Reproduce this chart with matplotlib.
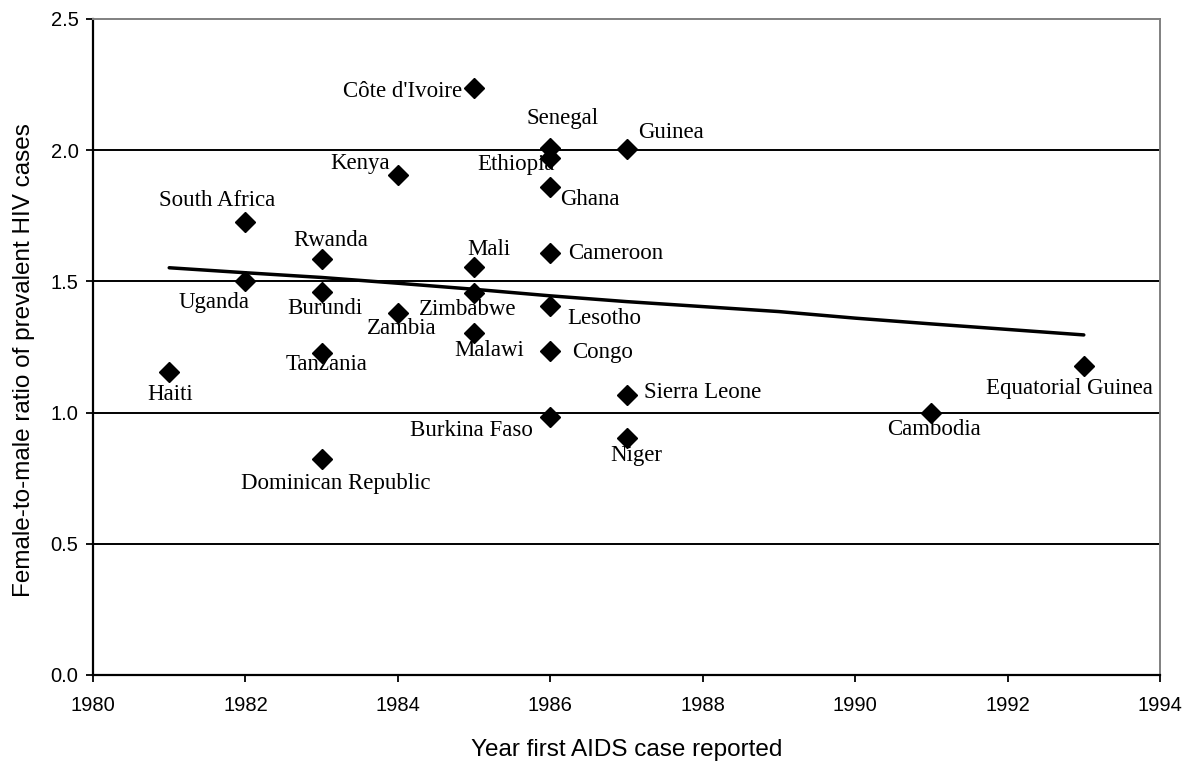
import matplotlib
matplotlib.use("Agg")
import matplotlib.pyplot as plt
from matplotlib.ticker import FormatStrFormatter

countries = ["Côte d'Ivoire", "Senegal", "Guinea", "Kenya", "Ethiopia", "Ghana",
             "South Africa", "Rwanda", "Mali", "Cameroon", "Uganda", "Burundi",
             "Zimbabwe", "Lesotho", "Zambia", "Malawi", "Tanzania", "Congo",
             "Haiti", "Sierra Leone", "Burkina Faso", "Niger", "Dominican Republic",
             "Cambodia", "Equatorial Guinea"]
years = [1985, 1986, 1987, 1984, 1986, 1986,
         1982, 1983, 1985, 1986, 1982, 1983,
         1985, 1986, 1984, 1985, 1983, 1986,
         1981, 1987, 1986, 1987, 1983,
         1991, 1993]
ratios = [2.237, 2.008, 2.005, 1.905, 1.97, 1.86,
          1.726, 1.585, 1.555, 1.608, 1.50, 1.46,
          1.456, 1.406, 1.38, 1.303, 1.227, 1.235,
          1.155, 1.067, 0.983, 0.903, 0.823,
          0.998, 1.178]

trend_years = [1981, 1982, 1983, 1984, 1985, 1986, 1987, 1988, 1989, 1990, 1991, 1992, 1993]
trend_vals = [1.552, 1.533, 1.515, 1.493, 1.470, 1.445, 1.423, 1.404, 1.385, 1.360, 1.338, 1.317, 1.296]

# label offsets in pixels and alignment
label_pos = {
    "Côte d'Ivoire": (-12, -3, 'right'),
    "Senegal": (12, 30, 'center'),
    "Guinea": (12, 16, 'left'),
    "Kenya": (-8, 12, 'right'),
    "Ethiopia": (5, -6, 'right'),
    "Ghana": (10, -13, 'left'),
    "South Africa": (-28, 22, 'center'),
    "Rwanda": (9, 19, 'center'),
    "Mali": (15, 17, 'center'),
    "Cameroon": (18, 0, 'left'),
    "Uganda": (-31, -21, 'center'),
    "Burundi": (3, -17, 'center'),
    "Zimbabwe": (-6, -17, 'center'),
    "Lesotho": (17, -12, 'left'),
    "Zambia": (4, -16, 'center'),
    "Malawi": (15, -17, 'center'),
    "Tanzania": (5, -11, 'center'),
    "Congo": (22, -2, 'left'),
    "Haiti": (1, -23, 'center'),
    "Sierra Leone": (18, 3, 'left'),
    "Burkina Faso": (-17, -13, 'right'),
    "Niger": (10, -17, 'center'),
    "Dominican Republic": (14, -24, 'center'),
    "Cambodia": (3, -16, 'center'),
    "Equatorial Guinea": (-14, -23, 'center'),
}

fig = plt.figure(figsize=(11.93, 7.66), dpi=100)
ax = fig.add_axes([93 / 1193, 91 / 766, 1067 / 1193, 656 / 766])

for yv in [0.5, 1.0, 1.5, 2.0]:
    ax.axhline(yv, color='black', lw=1.4, zorder=1)

ax.plot(trend_years, trend_vals, color='black', lw=2.5, zorder=2, solid_capstyle='round')
ax.plot(years, ratios, linestyle='none', marker='D', color='black', markersize=10, zorder=3)

for c, x, y in zip(countries, years, ratios):
    dx, dy, ha = label_pos[c]
    ax.annotate(c, (x, y), xytext=(dx, dy), textcoords='offset pixels',
                ha=ha, va='center', fontsize=16.5, family='Liberation Serif', zorder=4)

ax.set_xlim(1980, 1994)
ax.set_ylim(0, 2.5)
ax.set_xticks(range(1980, 1995, 2))
ax.set_yticks([0.0, 0.5, 1.0, 1.5, 2.0, 2.5])
ax.yaxis.set_major_formatter(FormatStrFormatter('%.1f'))

for lab in ax.get_xticklabels() + ax.get_yticklabels():
    lab.set_family('Liberation Sans')
    lab.set_fontsize(14.5)
ax.tick_params(direction='out', length=5, width=1.3, color='black')
ax.tick_params(axis='x', pad=10)
ax.tick_params(axis='y', pad=5.5)

ax.spines['left'].set_color('black')
ax.spines['bottom'].set_color('black')
ax.spines['left'].set_linewidth(1.6)
ax.spines['bottom'].set_linewidth(1.6)
ax.spines['top'].set_color('#808080')
ax.spines['right'].set_color('#808080')
ax.spines['top'].set_linewidth(1.4)
ax.spines['right'].set_linewidth(1.4)

ax.set_xlabel('Year first AIDS case reported', family='Liberation Sans', fontsize=17.5)
ax.set_ylabel('Female-to-male ratio of prevalent HIV cases', family='Liberation Sans', fontsize=17.5)
ax.xaxis.set_label_coords(0.5, -0.097)
ax.yaxis.set_label_coords(-0.054, 0.48)

fig.savefig('out.png', dpi=100)
